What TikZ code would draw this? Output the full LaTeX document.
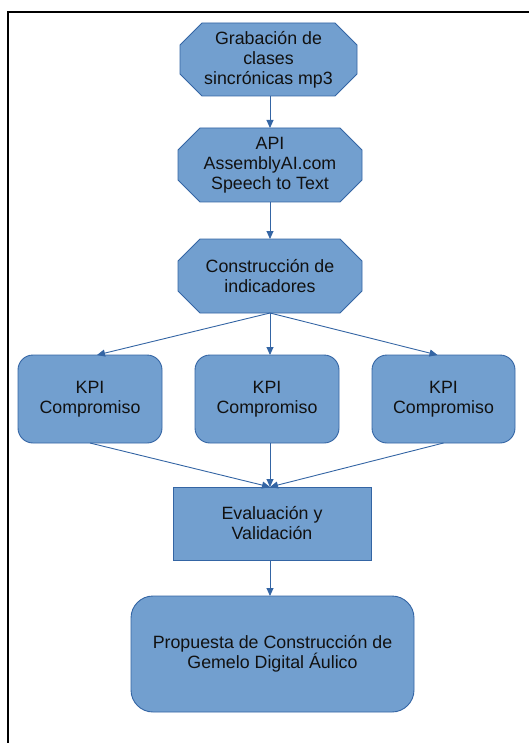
\documentclass[tikz,border=0pt]{standalone}
\usepackage{fontspec}
\setmainfont{Liberation Sans}
\usetikzlibrary{arrows.meta,backgrounds}
\definecolor{boxfill}{HTML}{729FCF}
\definecolor{boxline}{HTML}{3465A4}
\definecolor{txt}{HTML}{111111}
\newcommand\octoshape[1]{%
  \filldraw[octbox] ([xshift=22pt]#1.north west) -- ([xshift=-22pt]#1.north east)
   -- ([yshift=-22pt]#1.north east) -- ([yshift=22pt]#1.south east)
   -- ([xshift=-22pt]#1.south east) -- ([xshift=22pt]#1.south west)
   -- ([yshift=22pt]#1.south west) -- ([yshift=-22pt]#1.north west) -- cycle;}
\tikzset{
  base/.style={inner sep=0pt, outer sep=0pt, align=center, text=txt,
    font=\fontsize{17.8}{20}\selectfont},
  octnode/.style={base},
  octbox/.style={fill=boxfill, draw=boxline, line width=0.9pt},
  kpibox/.style={base, fill=boxfill, draw=boxline, line width=0.9pt, rounded corners=15pt},
  evalbox/.style={base, fill=boxfill, draw=boxline, line width=0.9pt},
  finalbox/.style={base, fill=boxfill, draw=boxline, line width=0.9pt, rounded corners=22pt},
  conn/.style={draw=boxline, line width=0.9pt, -{Triangle[width=7pt,length=8pt]}},
  frame/.style={line width=2pt, black}
}
\begin{document}
\begin{tikzpicture}[x=1pt,y=-1pt]
\useasboundingbox (0,0) rectangle (529,743);
\draw[frame] (7.7,743) -- (7.7,12) -- (529,12);

\node[octnode, minimum width=177pt, minimum height=73pt] (o1) at (268.5,59.5)
  {Grabación de\\clases\\sincrónicas mp3};
\node[octnode, minimum width=184pt, minimum height=74pt] (o2) at (270,165)
  {API\\AssemblyAI.com\\Speech to Text};
\node[octnode, minimum width=184pt, minimum height=74pt] (o3) at (270,276)
  {Construcción de\\indicadores};
\begin{pgfonlayer}{background}
  \octoshape{o1}
  \octoshape{o2}
  \octoshape{o3}
\end{pgfonlayer}

\node[kpibox, minimum width=144pt, minimum height=88pt] (k1) at (90,399) {KPI\\Compromiso};
\node[kpibox, minimum width=144pt, minimum height=88pt] (k2) at (267,399) {KPI\\Compromiso};
\node[kpibox, minimum width=143pt, minimum height=88pt] (k3) at (443.5,399) {KPI\\Compromiso};

\node[evalbox, minimum width=198pt, minimum height=73pt] (e) at (272,523.5) {Evaluación y\\Validación};
\node[finalbox, minimum width=283pt, minimum height=116pt] (f) at (272.5,654)
  {Propuesta de Construcción de\\Gemelo Digital Áulico};

\draw[conn] ([xshift=1.5pt]o1.south) -- (o2.north);
\draw[conn] (o2.south) -- (o3.north);
\draw[conn] (o3.south) -- ([xshift=7pt]k1.north);
\draw[conn] (o3.south) -- ([xshift=3pt]k2.north);
\draw[conn] (o3.south) -- ([xshift=-6pt]k3.north);
\draw[conn] (k1.south) -- ([xshift=-2pt]e.north);
\draw[conn] ([xshift=3pt]k2.south) -- ([xshift=-2pt]e.north);
\draw[conn] (k3.south) -- ([xshift=-2pt]e.north);
\draw[conn] ([xshift=-2pt]e.south) -- ([xshift=-2.5pt]f.north);
\end{tikzpicture}
\end{document}
